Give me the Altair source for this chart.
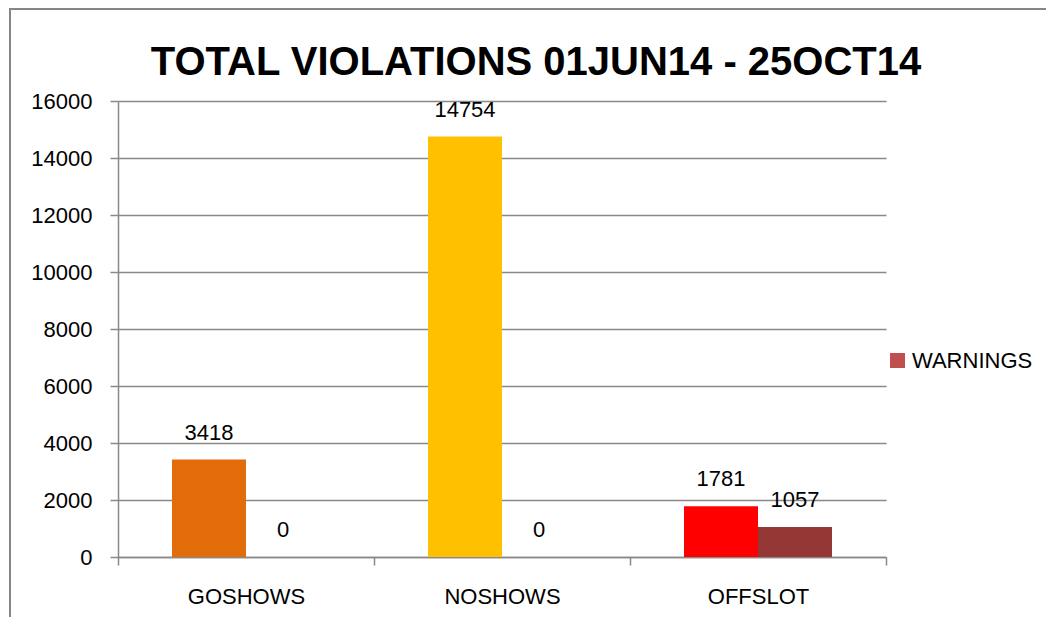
import altair as alt
import pandas as pd

categories = ["GOSHOWS", "NOSHOWS", "OFFSLOT"]
violations = [3418, 14754, 1781]
warnings = [0, 0, 1057]
violation_colors = ["#E36C0A", "#FFC000", "#FF0000"]
warning_color = "#953735"
legend_color = "#C0504D"
y_ticks = [0, 2000, 4000, 6000, 8000, 10000, 12000, 14000, 16000]
title_text = "TOTAL VIOLATIONS 01JUN14 - 25OCT14"

rows = []
for c, v, w, col in zip(categories, violations, warnings, violation_colors):
    rows.append({"category": c, "series": "VIOLATIONS", "value": v, "color": col})
    rows.append({"category": c, "series": "WARNINGS", "value": w, "color": warning_color})
df = pd.DataFrame(rows)

FONT = "Liberation Sans"
GRAY = "#898989"

base = alt.Chart(df).encode(
    x=alt.X(
        "category:N",
        sort=categories,
        scale=alt.Scale(paddingInner=0, paddingOuter=0),
        axis=alt.Axis(
            title=None, labelAngle=0, tickBand="extent", ticks=True, tickSize=8,
            tickColor=GRAY, tickWidth=1.5, domainColor=GRAY, domainWidth=1.5,
            labelFont=FONT, labelFontSize=22, labelPadding=21, labelColor="black",
            grid=False,
        ),
    ),
    xOffset=alt.XOffset(
        "series:N", sort=["VIOLATIONS", "WARNINGS"],
        scale=alt.Scale(paddingInner=0, paddingOuter=0.7297),
    ),
    y=alt.Y(
        "value:Q",
        scale=alt.Scale(domain=[0, 16000], nice=False),
        axis=alt.Axis(
            title=None, values=y_ticks, format="d", tickSize=8, tickColor=GRAY,
            tickWidth=1.5, domainColor=GRAY, domainWidth=1.5, gridColor=GRAY,
            gridWidth=1.5, grid=True, labelFont=FONT, labelFontSize=22,
            labelPadding=18, labelColor="black",
        ),
    ),
)

bars = base.mark_bar().encode(fill=alt.Fill("color:N", scale=None))
labels = base.mark_text(dy=-20, baseline="alphabetic", fontSize=22, font=FONT, color="black").encode(
    text=alt.Text("value:Q", format="d")
)

frame_df = pd.DataFrame({"k": [0]})
border = alt.Chart(frame_df).mark_rect(fillOpacity=0, stroke="#868686", strokeWidth=2).encode(
    x=alt.value(-108), x2=alt.value(1100), y=alt.value(-92), y2=alt.value(700)
)

title_df = pd.DataFrame({"title": [title_text]})
title = alt.Chart(title_df).mark_text(
    align="center", baseline="alphabetic", fontSize=40, font=FONT, fontWeight="bold", color="black"
).encode(x=alt.value(418), y=alt.value(-26), text="title:N")

legend_df = pd.DataFrame({"label": ["WARNINGS"]})
leg_sym = alt.Chart(legend_df).mark_square(size=225, color=legend_color, opacity=1).encode(
    x=alt.value(779.5), y=alt.value(259.5)
)
leg_txt = alt.Chart(legend_df).mark_text(align="left", baseline="middle", fontSize=22, font=FONT, color="black").encode(
    x=alt.value(794), y=alt.value(260), text="label:N"
)

chart = alt.layer(border, bars, labels, title, leg_sym, leg_txt).properties(
    width=768,
    height=456,
    autosize=alt.AutoSizeParams(type="none"),
    padding={"left": 110, "top": 93, "right": 160, "bottom": 60},
).configure_view(strokeWidth=0)

chart.save("out.html", embed_options={"renderer": "svg", "actions": False})
